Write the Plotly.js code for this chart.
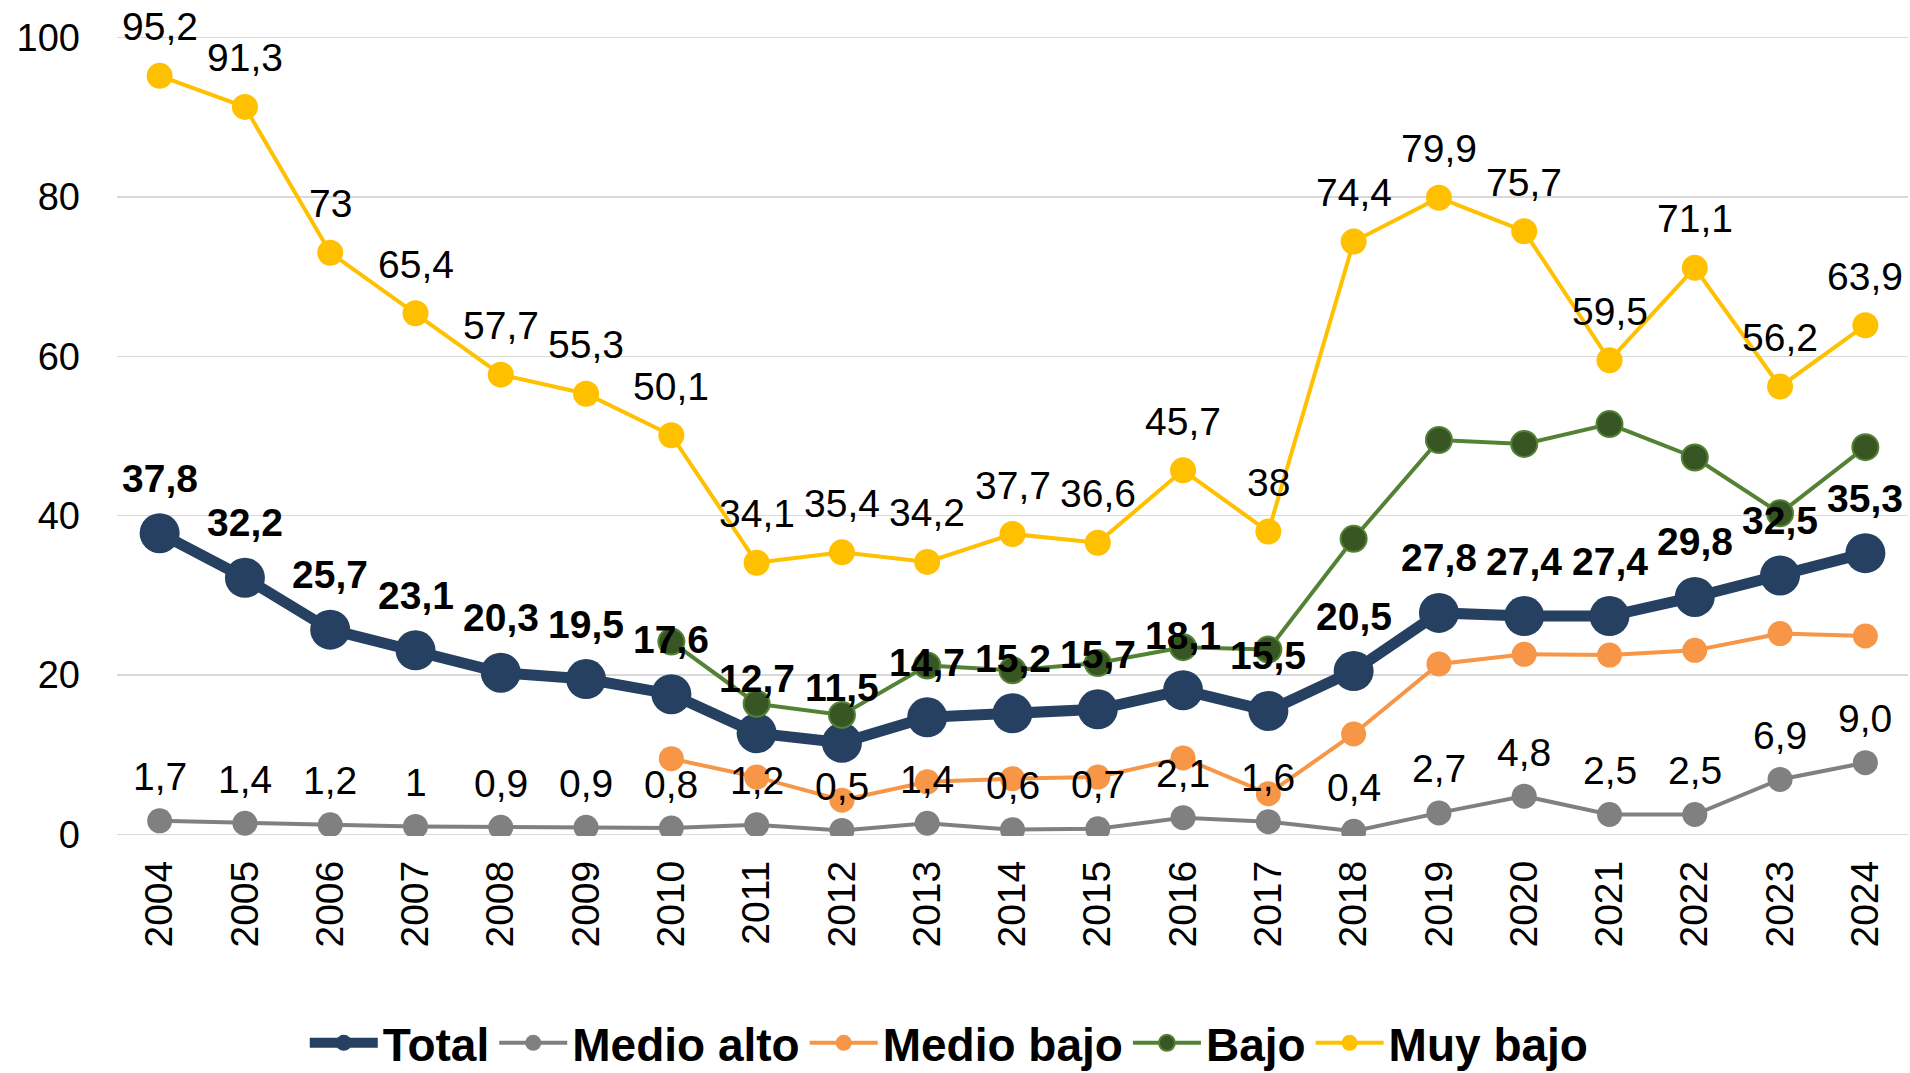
<!DOCTYPE html>
<html>
<head>
<meta charset="utf-8">
<script src="https://cdn.plot.ly/plotly-3.0.1.min.js"></script>
<style>
  html, body { margin: 0; padding: 0; background: #ffffff; }
  #chart { width: 1910px; height: 1073px; }
</style>
</head>
<body>
<div id="chart"></div>
<script>
const years = ['2004','2005','2006','2007','2008','2009','2010','2011','2012','2013','2014','2015','2016','2017','2018','2019','2020','2021','2022','2023','2024'];

const total     = [37.8, 32.2, 25.7, 23.1, 20.3, 19.5, 17.6, 12.7, 11.5, 14.7, 15.2, 15.7, 18.1, 15.5, 20.5, 27.8, 27.4, 27.4, 29.8, 32.5, 35.3];
const medioAlto = [1.7, 1.4, 1.2, 1, 0.9, 0.9, 0.8, 1.2, 0.5, 1.4, 0.6, 0.7, 2.1, 1.6, 0.4, 2.7, 4.8, 2.5, 2.5, 6.9, 9.0];
const medioBajo = [null, null, null, null, null, null, 9.5, 7.2, 4.3, 6.6, 7.0, 7.2, 9.6, 5.1, 12.6, 21.4, 22.6, 22.5, 23.1, 25.2, 24.9];
const bajo      = [null, null, null, null, null, null, 24.2, 16.4, 15.0, 21.2, 20.6, 21.5, 23.5, 23.2, 37.1, 49.5, 49.0, 51.5, 47.3, 40.3, 48.6];
const muyBajo   = [95.2, 91.3, 73, 65.4, 57.7, 55.3, 50.1, 34.1, 35.4, 34.2, 37.7, 36.6, 45.7, 38, 74.4, 79.9, 75.7, 59.5, 71.1, 56.2, 63.9];

const medioAltoLabels = ['1,7','1,4','1,2','1','0,9','0,9','0,8','1,2','0,5','1,4','0,6','0,7','2,1','1,6','0,4','2,7','4,8','2,5','2,5','6,9','9,0'];

const seriesNames = ['Total', 'Medio alto', 'Medio bajo', 'Bajo', 'Muy bajo'];
const yTicks = [0, 20, 40, 60, 80, 100];

const FONT = 'Liberation Sans, Arial, sans-serif';
const fmt = v => String(v).replace('.', ',');

const traces = [
  { name: seriesNames[0], x: years, y: total, type: 'scatter', mode: 'lines+markers',
    line: { color: '#254061', width: 11 }, marker: { color: '#254061', size: 40 } },
  { name: seriesNames[1], x: years, y: medioAlto, type: 'scatter', mode: 'lines+markers',
    line: { color: '#808080', width: 4 }, marker: { color: '#808080', size: 25 } },
  { name: seriesNames[2], x: years, y: medioBajo, type: 'scatter', mode: 'lines+markers',
    line: { color: '#F79646', width: 4 }, marker: { color: '#F79646', size: 25 } },
  { name: seriesNames[3], x: years, y: bajo, type: 'scatter', mode: 'lines+markers',
    line: { color: '#548235', width: 4 }, marker: { color: '#375623', size: 26, line: { color: '#548235', width: 2 } } },
  { name: seriesNames[4], x: years, y: muyBajo, type: 'scatter', mode: 'lines+markers',
    line: { color: '#FFC000', width: 4 }, marker: { color: '#FFC000', size: 26 } }
];

const annotations = [];
function addLabels(vals, texts, shift, bold) {
  vals.forEach((v, i) => {
    if (v === null) return;
    annotations.push({
      x: i, y: v, xref: 'x', yref: 'y',
      text: bold ? '<b>' + texts[i] + '</b>' : texts[i],
      showarrow: false, yshift: shift, xanchor: 'center', yanchor: 'middle',
      font: { family: FONT, size: 39, color: '#000000' }
    });
  });
}
addLabels(muyBajo, muyBajo.map(fmt), 49, false);
addLabels(medioAlto, medioAltoLabels, 44, false);
addLabels(total, total.map(fmt), 55, true);

const layout = {
  width: 1910, height: 1073,
  margin: { l: 117, r: 2, t: 36, b: 237 },
  paper_bgcolor: '#ffffff', plot_bgcolor: '#ffffff',
  font: { family: FONT, color: '#000000', size: 38 },
  showlegend: true,
  legend: {
    orientation: 'h', xref: 'container', yref: 'container',
    x: 0.497, xanchor: 'center', y: 0.028, yanchor: 'middle',
    font: { family: FONT, size: 46, color: '#000000', weight: 'bold' },
    itemwidth: 68, tracegroupgap: 0, bgcolor: 'rgba(0,0,0,0)'
  },
  xaxis: {
    type: 'category', categoryorder: 'array', categoryarray: years,
    range: [-0.5, years.length - 0.5],
    tickangle: -90, showgrid: false, showline: false, zeroline: false,
    ticks: '', ticklabelstandoff: 16,
    tickfont: { family: FONT, size: 39, color: '#000000' }
  },
  yaxis: {
    range: [-0.2, 100.2], tickvals: yTicks, showgrid: true, gridcolor: '#D9D9D9', gridwidth: 1.5,
    zeroline: false, showline: false, ticks: '', ticklabelstandoff: 36,
    tickfont: { family: FONT, size: 38, color: '#000000' }
  },
  annotations: annotations
};

Plotly.newPlot('chart', traces, layout, { displayModeBar: false, staticPlot: true });
</script>
</body>
</html>
